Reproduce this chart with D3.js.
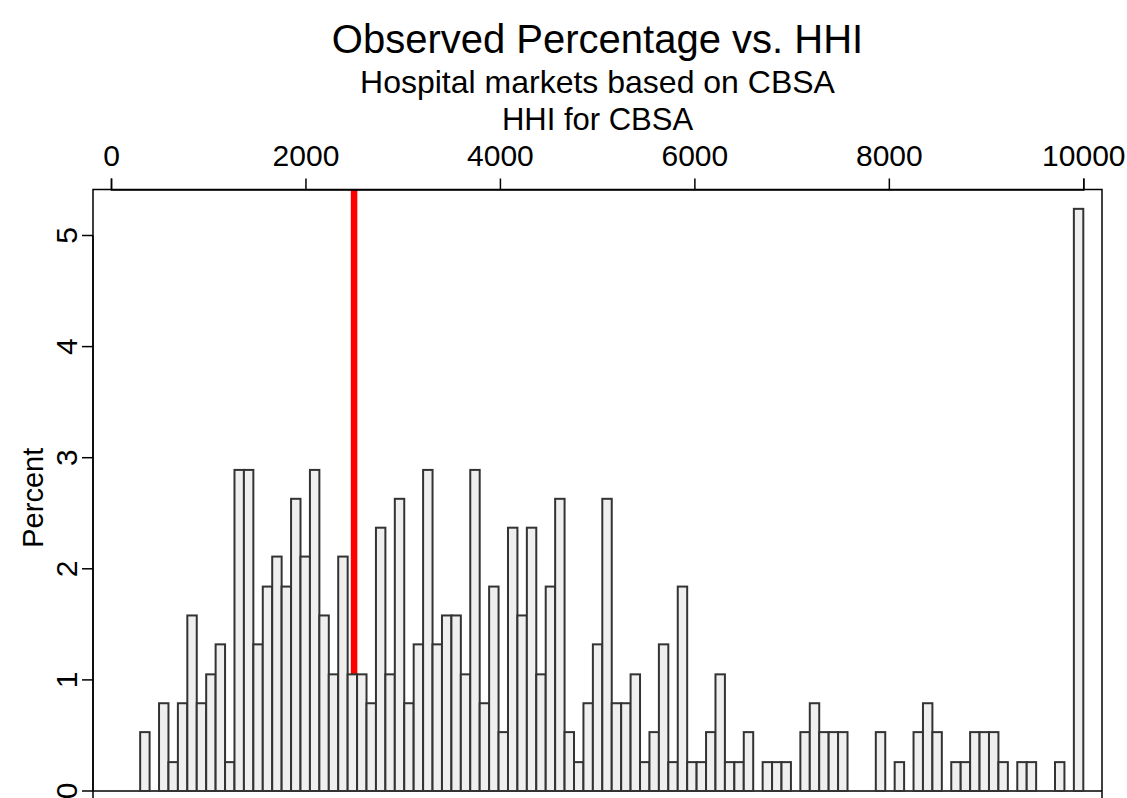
<!DOCTYPE html>
<html>
<head>
<meta charset="utf-8">
<script src="https://cdn.jsdelivr.net/npm/d3@7"></script>
<style>
    body { margin: 0; background: #fff; }
    svg { display: block; font-family: "Liberation Sans", Arial, sans-serif; }
</style>
</head>
<body>
<div id="chart"></div>
<script>
// Histogram of HHI: 100 equal bins between the lowest and highest HHI
const hhiMin = 300;
const hhiMax = 10000;
const binCount = 100;

// Percent of markets in each bin
const percent = [
    0.53, 0, 0.79, 0.26, 0.79, 1.58, 0.79, 1.05, 1.32, 0.26,
    2.89, 2.89, 1.32, 1.84, 2.11, 1.84, 2.63, 2.11, 2.89, 1.58,
    1.05, 2.11, 1.05, 1.05, 0.79, 2.37, 1.05, 2.63, 0.79, 1.32,
    2.89, 1.32, 1.58, 1.58, 1.05, 2.89, 0.79, 1.84, 0.53, 2.37,
    1.58, 2.37, 1.05, 1.84, 2.63, 0.53, 0.26, 0.79, 1.32, 2.63,
    0.79, 0.79, 1.05, 0.26, 0.53, 1.32, 0.26, 1.84, 0.26, 0.26,
    0.53, 1.05, 0.26, 0.26, 0.53, 0, 0.26, 0.26, 0.26, 0,
    0.53, 0.79, 0.53, 0.53, 0.53, 0, 0, 0, 0.53, 0,
    0.26, 0, 0.53, 0.79, 0.53, 0, 0.26, 0.26, 0.53, 0.53,
    0.53, 0.26, 0, 0.26, 0.26, 0, 0, 0.26, 0, 5.24
];

const xTicks = [0, 2000, 4000, 6000, 8000, 10000];
const yTicks = [0, 1, 2, 3, 4, 5];
const threshold = 2500;

const width = 1127, height = 798;

// plot box (bottom edge falls outside the picture, as in the original)
const box = { left: 93, right: 1102, top: 189.5, bottom: 814 };

const svg = d3.select("#chart")
    .append("svg")
    .attr("width", width)
    .attr("height", height);

svg.append("rect")
    .attr("width", width)
    .attr("height", height)
    .attr("fill", "#fff");

const x = d3.scaleLinear().domain([0, 10000]).range([111, 1083.3]);
const y = d3.scaleLinear().domain([0, 5]).range([791, 235.5]);

// bins
const step = (hhiMax - hhiMin) / binCount;
const bins = percent.map((p, i) => ({ x0: hhiMin + i * step, x1: hhiMin + (i + 1) * step, p: p }));

svg.append("clipPath")
    .attr("id", "plotclip")
    .append("rect")
    .attr("x", box.left)
    .attr("y", box.top)
    .attr("width", box.right - box.left)
    .attr("height", box.bottom - box.top);

const plot = svg.append("g").attr("clip-path", "url(#plotclip)");

// red reference line, drawn before the bars
plot.append("line")
    .attr("x1", x(threshold))
    .attr("x2", x(threshold))
    .attr("y1", box.top)
    .attr("y2", y(0))
    .attr("stroke", "#ff0000")
    .attr("stroke-width", 6.5);

// baseline
plot.append("line")
    .attr("x1", box.left)
    .attr("x2", box.right)
    .attr("y1", y(0))
    .attr("y2", y(0))
    .attr("stroke", "#000")
    .attr("stroke-width", 1.5);

// bars
plot.selectAll(".bar")
    .data(bins.filter(d => d.p > 0))
    .enter().append("rect")
    .attr("class", "bar")
    .attr("x", d => x(d.x0))
    .attr("width", d => x(d.x1) - x(d.x0))
    .attr("y", d => y(d.p))
    .attr("height", d => y(0) - y(d.p))
    .attr("fill", "#efefef")
    .attr("stroke", "#333")
    .attr("stroke-width", 2);

// frame
svg.append("rect")
    .attr("x", box.left)
    .attr("y", box.top)
    .attr("width", box.right - box.left)
    .attr("height", box.bottom - box.top)
    .attr("fill", "none")
    .attr("stroke", "#000")
    .attr("stroke-width", 1.5);

// top axis
const xAxis = d3.axisTop(x).tickValues(xTicks).tickSize(11).tickPadding(13).tickFormat(d3.format("d"));
const gx = svg.append("g")
    .attr("transform", "translate(0," + box.top + ")")
    .call(xAxis);
gx.select(".domain").attr("stroke", "#000").attr("stroke-width", 1.5);
gx.selectAll(".tick line").attr("stroke", "#000").attr("stroke-width", 1.5);
gx.selectAll(".tick text")
    .attr("fill", "#000")
    .style("font-size", "30px")
    .style("font-family", "Liberation Sans, Arial, sans-serif");

// left axis, labels parallel to the axis
const gy = svg.append("g")
    .attr("transform", "translate(" + box.left + ",0)");
gy.append("line")
    .attr("x1", 0).attr("x2", 0)
    .attr("y1", y(0)).attr("y2", y(5))
    .attr("stroke", "#000").attr("stroke-width", 1.5);
gy.selectAll(".ytick")
    .data(yTicks)
    .enter().append("line")
    .attr("class", "ytick")
    .attr("x1", -11).attr("x2", 0)
    .attr("y1", d => y(d)).attr("y2", d => y(d))
    .attr("stroke", "#000").attr("stroke-width", 1.5);
gy.selectAll(".ylab")
    .data(yTicks)
    .enter().append("text")
    .attr("class", "ylab")
    .attr("transform", d => "translate(-16," + y(d) + ") rotate(-90)")
    .attr("text-anchor", "middle")
    .style("font-size", "30px")
    .text(d => d);

// y axis title
svg.append("text")
    .attr("transform", "translate(43," + ((box.top + box.bottom) / 2 - 4) + ") rotate(-90)")
    .attr("text-anchor", "middle")
    .style("font-size", "29px")
    .text("Percent");

// x axis title (above the top axis)
svg.append("text")
    .attr("x", (box.left + box.right) / 2)
    .attr("y", 130)
    .attr("text-anchor", "middle")
    .style("font-size", "31px")
    .text("HHI for CBSA");

// titles
svg.append("text")
    .attr("x", (box.left + box.right) / 2)
    .attr("y", 53)
    .attr("text-anchor", "middle")
    .style("font-size", "40px")
    .text("Observed Percentage vs. HHI");

svg.append("text")
    .attr("x", (box.left + box.right) / 2)
    .attr("y", 93)
    .attr("text-anchor", "middle")
    .style("font-size", "32px")
    .text("Hospital markets based on CBSA");
</script>
</body>
</html>
